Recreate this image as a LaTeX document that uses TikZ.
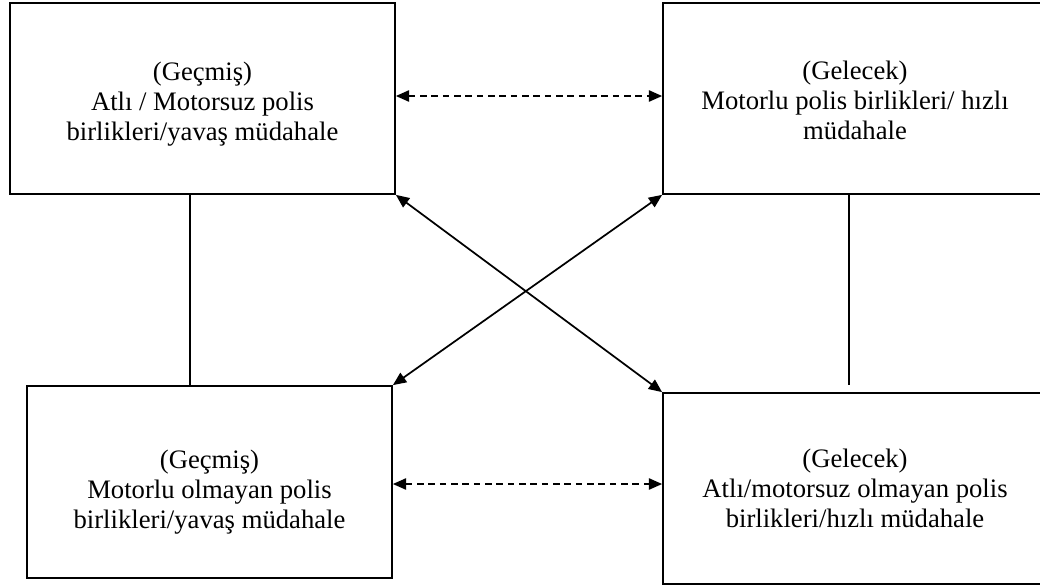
\documentclass[tikz,border=0pt]{standalone}
\usepackage{fontspec}
\setmainfont{Liberation Serif}
\usetikzlibrary{arrows.meta}
\begin{document}
\begin{tikzpicture}[x=0.75pt,y=-0.75pt,
  stage/.style={draw,line width=1.3pt,rectangle,inner sep=0pt},
  caption/.style={align=center,inner sep=0pt,font=\fontsize{20}{22.5}\selectfont},
  link/.style={line width=1.3pt,
    {Triangle[length=10pt,width=8.5pt]}-{Triangle[length=10pt,width=8.5pt]}},
  dashlink/.style={link,dash pattern=on 5pt off 3.5pt},
  plain/.style={line width=1.3pt}]
\useasboundingbox (0,0) rectangle (1040,587);
\clip (0,0) rectangle (1040,587);

% the four stages
\node[stage,minimum width=288.75pt,minimum height=143.25pt] (tl) at (202.5,98.5) {};
\node[stage,minimum width=288pt,minimum height=143.25pt] (tr) at (855,98.5) {};
\node[stage,minimum width=273.75pt,minimum height=144pt] (bl) at (209.5,482) {};
\node[stage,minimum width=288pt,minimum height=143.25pt] (br) at (855,488.5) {};

% their texts
\node[caption] (tlt) at ([yshift=-4.5pt]tl.center)
  {(Geçmiş)\\Atlı / Motorsuz polis\\birlikleri/yavaş müdahale};
\node[caption] (trt) at ([yshift=-1.5pt]tr.center)
  {(Gelecek)\\Motorlu polis birlikleri/ hızlı\\müdahale};
\node[caption] (blt) at ([yshift=-7.5pt]bl.center)
  {(Geçmiş)\\Motorlu olmayan polis\\birlikleri/yavaş müdahale};
\node[caption] (brt) at (br.center)
  {(Gelecek)\\Atlı/motorsuz olmayan polis\\birlikleri/hızlı müdahale};

% horizontal dashed links
\coordinate (dtop) at (0,96);
\coordinate (dbot) at (0,484);
\draw[dashlink] (tl.east |- dtop) -- (tr.west |- dtop);
\draw[dashlink] (bl.east |- dbot) -- (br.west |- dbot);

% crossing links between the corners
\draw[link] (tl.south east) -- (br.north west);
\draw[link] (tr.south west) -- (bl.north east);

% vertical ties
\coordinate (lx) at (190,0);
\draw[plain] (tl.south -| lx) -- (bl.north -| lx);
\coordinate (rstop) at (849,385);
\draw[plain] (tr.south -| rstop) -- (rstop);
\end{tikzpicture}
\end{document}
